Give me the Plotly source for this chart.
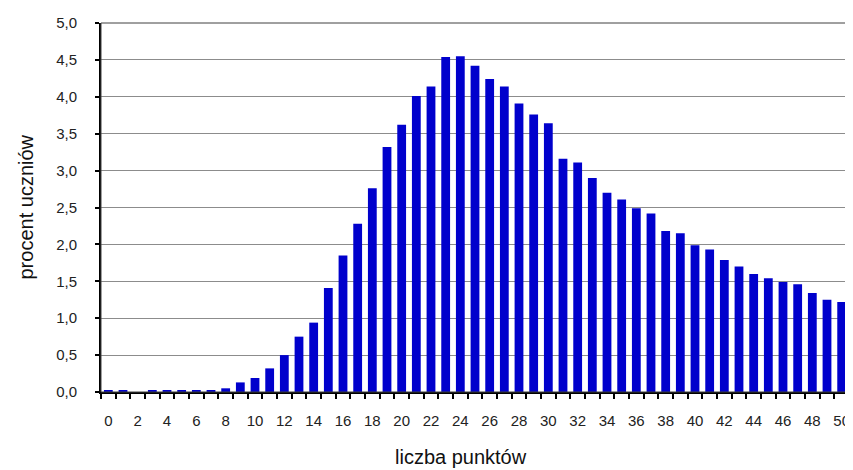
import plotly.graph_objects as go

punkty = list(range(51))
procent = [0.02, 0.02, 0.0, 0.02, 0.02, 0.02, 0.02, 0.02, 0.05, 0.13,
           0.19, 0.32, 0.50, 0.75, 0.94, 1.41, 1.85, 2.28, 2.76, 3.32,
           3.62, 4.01, 4.14, 4.54, 4.55, 4.42, 4.24, 4.14, 3.91, 3.76,
           3.64, 3.16, 3.11, 2.90, 2.70, 2.61, 2.49, 2.42, 2.18, 2.15,
           1.99, 1.93, 1.79, 1.70, 1.60, 1.54, 1.49, 1.46, 1.34, 1.25,
           1.22]
x_ticks = list(range(0, 51, 2))
y_ticks = [i * 0.5 for i in range(11)]

font = "Liberation Sans, Arial, sans-serif"

fig = go.Figure(go.Bar(x=punkty, y=procent, marker=dict(color="#0000CC", line=dict(width=0)),
                       hoverinfo="x+y"))

# page body has an 8px margin, so the figure is sized to fit the 853x470 window
fig.update_layout(
    width=845, height=462,
    margin=dict(l=93, r=4, t=15, b=78),
    paper_bgcolor="white", plot_bgcolor="white",
    separators=", ",
    bargap=0.4,
    showlegend=False,
    font=dict(family=font, size=15, color="#222"),
)

fig.update_xaxes(
    range=[-0.5, 50.5],
    tickmode="array", tickvals=x_ticks, ticktext=[str(v) for v in x_ticks],
    ticks="", ticklabelstandoff=14,
    minor=dict(tickmode="linear", tick0=-0.5, dtick=1, ticks="outside", ticklen=5,
               tickwidth=2, tickcolor="black", showgrid=False),
    showline=True, linecolor="black", linewidth=2,
    showgrid=False, zeroline=False, automargin=False,
    fixedrange=True,
)

fig.update_yaxes(
    range=[0, 5],
    tickmode="array", tickvals=y_ticks, tickformat=".1f",
    ticks="outside", ticklen=4, tickwidth=2, tickcolor="black",
    ticklabelstandoff=15,
    showline=True, linecolor="black", linewidth=2,
    showgrid=True, gridcolor="#8c8c8c", gridwidth=1,
    zeroline=False, automargin=False,
    fixedrange=True,
)

fig.add_shape(type="rect", xref="paper", yref="paper", x0=0, y0=0, x1=1, y1=1,
              line=dict(color="#404040", width=1), layer="above")

fig.add_annotation(text="procent uczniów", xref="paper", yref="paper",
                   x=-0.1016, y=0.5, xanchor="center", yanchor="middle",
                   textangle=-90, showarrow=False,
                   font=dict(family=font, size=20, color="#111"))
fig.add_annotation(text="liczba punktów", xref="paper", yref="paper",
                   x=0.481, y=-0.176, xanchor="center", yanchor="middle",
                   showarrow=False,
                   font=dict(family=font, size=20, color="#111"))

fig.write_html("out.html")
